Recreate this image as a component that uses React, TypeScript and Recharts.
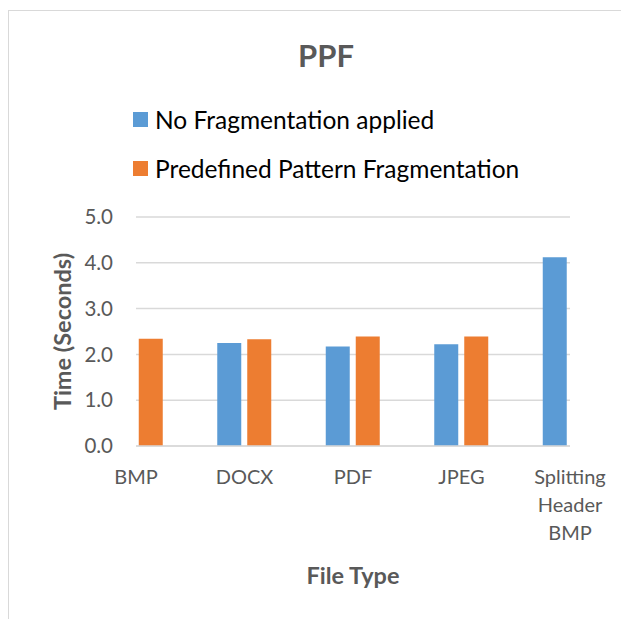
import { BarChart, Bar, XAxis, YAxis, CartesianGrid, Legend, Text } from 'recharts';

const fileTypes = ['BMP', 'DOCX', 'PDF', 'JPEG', 'Splitting Header BMP'];
const noFragmentation = [null, 2.25, 2.17, 2.22, 4.12];
const predefinedPattern = [2.34, 2.33, 2.39, 2.39, null];
const yTicks = [0, 1, 2, 3, 4, 5];

const FONT = 'Lato, "Open Sans", sans-serif';
const GREY = '#595959';

const data = fileTypes.map((name, i) => ({
  name,
  none: noFragmentation[i],
  ppf: predefinedPattern[i],
}));

function CategoryTick(props: any) {
  const { x, y, payload } = props;
  return (
    <Text
      x={x}
      y={y}
      width={80}
      lineHeight={28}
      textAnchor="middle"
      verticalAnchor="start"
      fontFamily={FONT}
      fontSize={20}
      fill={GREY}
    >
      {payload.value}
    </Text>
  );
}

function LegendBox(props: any) {
  const { payload } = props;
  return (
    <div>
      {payload.map((entry: any) => (
        <div
          key={entry.value}
          style={{ display: 'flex', alignItems: 'center', height: 49, fontFamily: FONT, fontSize: 24.5, color: '#000' }}
        >
          <span style={{ display: 'inline-block', width: 15, height: 15, background: entry.color, marginRight: 7 }} />
          {entry.value}
        </div>
      ))}
    </div>
  );
}

export default function App() {
  return (
    <div
      style={{
        position: 'relative',
        width: 620,
        height: 608,
        marginTop: 2,
        borderLeft: '1px solid #d9d9d9',
        borderTop: '1px solid #d9d9d9',
        overflow: 'hidden',
        background: '#fff',
      }}
    >
      <div
        style={{
          position: 'absolute',
          left: 0,
          width: 634,
          top: 29,
          textAlign: 'center',
          fontFamily: FONT,
          fontWeight: 700,
          fontSize: 31,
          lineHeight: '30px',
          color: GREY,
        }}
      >
        PPF
      </div>
      <BarChart
        width={620}
        height={608}
        data={data}
        margin={{ top: 206, right: 59, bottom: 0, left: 0 }}
        barSize={24}
        barGap={6}
      >
        <CartesianGrid vertical={false} stroke="#d9d9d9" strokeWidth={1.5} />
        <XAxis
          dataKey="name"
          height={173}
          padding={{ left: -54.25, right: -54.25 }}
          interval={0}
          axisLine={{ stroke: '#d9d9d9', strokeWidth: 1.5 }}
          tickLine={false}
          tickSize={6}
          tickMargin={18}
          tick={<CategoryTick />}
          label={{
            content: (p: any) => (
              <text
                x={p.viewBox.x + p.viewBox.width / 2}
                y={p.viewBox.y + 129}
                textAnchor="middle"
                dominantBaseline="central"
                fontFamily={FONT}
                fontWeight={700}
                fontSize={23.5}
                fill={GREY}
              >
                File Type
              </text>
            ),
          }}
        />
        <YAxis
          width={127}
          domain={[0, 5]}
          ticks={yTicks}
          tickFormatter={(v: number) => v.toFixed(1)}
          axisLine={false}
          tickLine={false}
          tickSize={6}
          tickMargin={17}
          tick={{ fontFamily: FONT, fontSize: 20.5, fill: GREY }}
          label={{
            content: (p: any) => (
              <text
                x={53}
                y={p.viewBox.y + p.viewBox.height / 2}
                transform={`rotate(-90 53 ${p.viewBox.y + p.viewBox.height / 2})`}
                textAnchor="middle"
                dominantBaseline="central"
                fontFamily={FONT}
                fontWeight={700}
                fontSize={23.5}
                fill={GREY}
              >
                Time (Seconds)
              </text>
            ),
          }}
        />
        <Legend
          layout="vertical"
          align="center"
          verticalAlign="middle"
          content={<LegendBox />}
          wrapperStyle={{ top: 83.5, left: 124, width: 480, height: 98 }}
        />
        <Bar dataKey="none" name="No Fragmentation applied" fill="#5b9bd5" isAnimationActive={false} />
        <Bar dataKey="ppf" name="Predefined Pattern Fragmentation" fill="#ed7d31" isAnimationActive={false} />
      </BarChart>
    </div>
  );
}
